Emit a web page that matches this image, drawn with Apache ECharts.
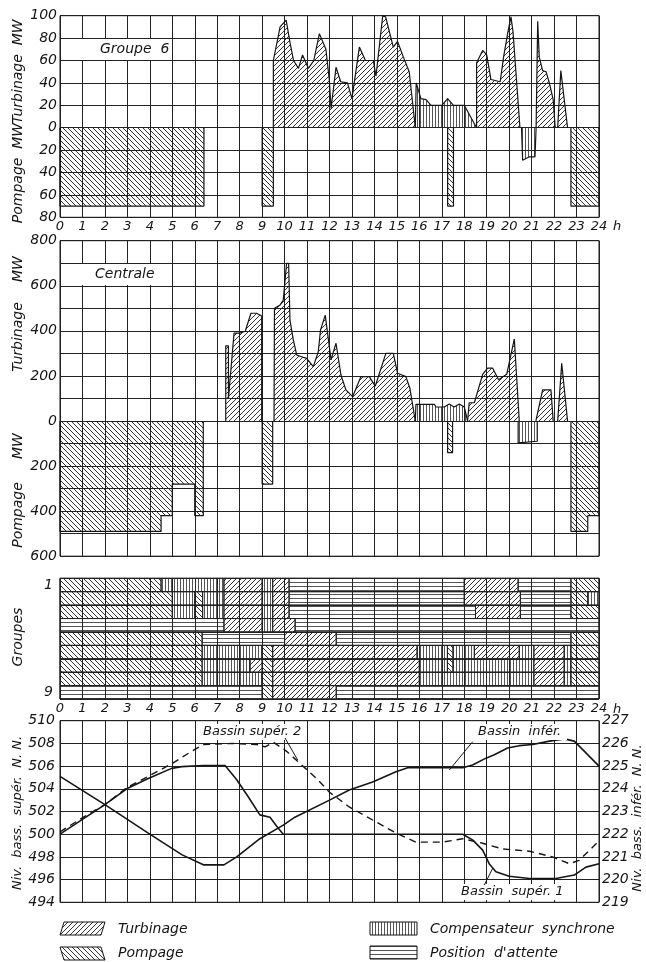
<!DOCTYPE html>
<html><head><meta charset="utf-8">
<script src="https://cdn.jsdelivr.net/npm/echarts@6/dist/echarts.min.js"></script>
<style>html,body{margin:0;padding:0;background:#fff}#c{width:646px;height:962px}</style>
</head><body><div id="c"></div>
<script>
// ---------- DATA ----------
const hourLabels = ['0','1','2','3','4','5','6','7','8','9','10','11','12','13','14','15','16','17','18','19','20','21','22','23','24'];
const groupLabels = ['1','2','3','4','5','6','7','8','9'];

// Groupe 6 (MW) ; null separates segments
const g6Turbinage = [
  [9.5,0],[9.5,60],[9.8,90],[10.07,96],[10.25,75],[10.4,60],[10.62,53],[10.8,65],[11.06,53],[11.3,60],[11.55,84],[11.84,70],[11.99,43],[12.07,17],[12.29,54],[12.5,41],[12.8,40],[13.0,26],[13.33,72],[13.6,60],[13.95,60],[14.07,46],[14.37,100],[14.5,99],[14.84,72],[15.03,77],[15.29,63],[15.55,50],[15.82,0],
  null,
  [18.55,0],[18.55,58],[18.82,69],[19.0,65],[19.19,43],[19.6,41],[19.75,63],[19.95,86],[20.08,99],[20.17,86],[20.48,0],
  null,
  [21.2,0],[21.27,95],[21.34,63],[21.49,51],[21.64,50],[21.79,40],[21.96,25],[22.05,0],
  null,
  [22.16,0],[22.3,51],[22.6,0]
];
const g6Pompage = [
  [0,0],[0,-70],[6.41,-70],[6.41,0], null,
  [9.0,0],[9.0,-70],[9.5,-70],[9.5,0], null,
  [17.26,0],[17.26,-70],[17.52,-70],[17.52,0], null,
  [22.75,0],[22.75,-70],[24,-70],[24,0]
];
const g6Compensateur = [
  [15.82,0],[15.86,40],[16.07,26],[16.3,25],[16.52,20],[17.0,20],[17.26,26],[17.52,20],[18.0,20],[18.55,0], null,
  [20.55,0],[20.6,-29],[20.9,-26],[21.15,-26],[21.2,0]
];

// Centrale (MW)
const centraleTurbinage = [
  [7.38,0],[7.38,333],[7.5,333],[7.5,100],[7.75,390],[8.0,390],[8.25,398],[8.5,478],[8.75,478],[8.98,466],[8.98,0],
  null,
  [9.53,0],[9.55,500],[9.8,515],[9.94,535],[10.09,700],[10.18,700],[10.24,448],[10.39,359],[10.54,293],[10.76,285],[10.98,278],[11.28,241],[11.5,307],[11.6,404],[11.81,470],[12.07,271],[12.29,345],[12.51,204],[12.73,138],[13.03,108],[13.4,197],[13.77,197],[14.04,155],[14.51,300],[14.84,300],[15.03,212],[15.4,197],[15.58,145],[15.82,0],
  null,
  [18.15,0],[18.22,81],[18.45,81],[18.82,207],[19.04,235],[19.26,235],[19.53,183],[19.89,207],[20.23,364],[20.45,0],
  null,
  [21.19,0],[21.49,138],[21.86,138],[21.96,0],
  null,
  [22.16,0],[22.34,256],[22.6,0]
];
const centralePompage = [
  [0,0],[0,-490],[4.5,-490],[4.5,-420],[5.0,-420],[5.0,-280],[6.0,-280],[6.0,-420],[6.38,-420],[6.38,0], null,
  [9.0,0],[9.0,-280],[9.47,-280],[9.47,0], null,
  [17.26,0],[17.26,-140],[17.48,-140],[17.48,0], null,
  [22.75,0],[22.75,-490],[23.5,-490],[23.5,-420],[24,-420],[24,0]
];
const centraleCompensateur = [
  [15.82,0],[15.85,74],[16.67,74],[16.74,62],[17.11,62],[17.33,75],[17.55,62],[17.78,75],[18.0,62],[18.15,0], null,
  [20.4,0],[20.4,-97],[21.25,-90],[21.25,0]
];

// Groupes: [start h, end h, state]  T=Turbinage P=Pompage C=Compensateur A=Attente
const groupe1 = [[0,4.5,'P'],[4.5,7.3,'C'],[7.3,9.0,'T'],[9.0,9.47,'C'],[9.47,10.2,'T'],[10.2,18.0,'A'],[18.0,20.4,'T'],[20.4,22.75,'A'],[22.75,24,'P']];
const groupe2 = [[0,5.0,'P'],[5.0,6.0,'C'],[6.0,6.35,'P'],[6.35,7.3,'C'],[7.3,9.0,'T'],[9.0,9.47,'C'],[9.47,10.2,'T'],[10.2,18.0,'A'],[18.0,20.5,'T'],[20.5,22.75,'A'],[22.75,23.5,'P'],[23.5,24,'C']];
const groupe3 = [[0,5.0,'P'],[5.0,6.0,'C'],[6.0,6.35,'P'],[6.35,7.3,'C'],[7.3,9.0,'T'],[9.0,9.47,'C'],[9.47,10.2,'T'],[10.2,18.5,'A'],[18.5,20.5,'T'],[20.5,22.75,'A'],[22.75,24,'P']];
const groupe4 = [[0,7.3,'A'],[7.3,9.0,'T'],[9.0,9.47,'C'],[9.47,10.47,'T'],[10.47,24,'A']];
const groupe5 = [[0,6.33,'P'],[6.33,10.0,'A'],[10.0,12.3,'T'],[12.3,22.75,'A'],[22.75,24,'P']];
const groupe6 = [[0,6.33,'P'],[6.33,9.0,'C'],[9.0,9.47,'P'],[9.47,15.9,'T'],[15.9,17.25,'C'],[17.25,17.5,'P'],[17.5,18.45,'C'],[18.45,20.45,'T'],[20.45,21.1,'C'],[21.1,22.45,'T'],[22.45,22.75,'C'],[22.75,24,'P']];
const groupe7 = [[0,6.33,'P'],[6.33,8.46,'C'],[8.46,9.0,'T'],[9.0,9.47,'P'],[9.47,16.0,'T'],[16.0,17.25,'C'],[17.25,17.5,'P'],[17.5,21.1,'C'],[21.1,22.45,'T'],[22.45,22.75,'C'],[22.75,24,'P']];
const groupe8 = [[0,6.33,'P'],[6.33,9.0,'C'],[9.0,9.47,'P'],[9.47,16.0,'T'],[16.0,21.1,'C'],[21.1,22.45,'T'],[22.45,22.75,'C'],[22.75,24,'P']];
const groupe9 = [[0,9.0,'A'],[9.0,9.47,'P'],[9.47,12.3,'T'],[12.3,24,'A']];

// Niveaux
const bassinSuper1 = [[0,500.0],[1,501.3],[2,502.6],[2.97,504.0],[3.93,504.9],[4.97,505.8],[5.42,505.95],[6.38,506.05],[7.35,506.05],[7.87,504.8],[8.38,503.3],[8.9,501.7],[9.35,501.5],[9.65,500.7],[9.94,500.0],[12,500],[17.93,500],[18.37,499.5],[18.82,498.6],[19.11,497.4],[19.41,496.7],[20.0,496.3],[20.9,496.1],[22.08,496.1],[22.9,496.4],[23.42,497.1],[24,497.4]];
const bassinSuper2 = [[0,500.2],[1.04,501.5],[2.0,502.6],[2.97,504.1],[3.93,505.1],[4.97,506.2],[5.86,507.3],[6.38,507.9],[7.72,508.0],[8.76,507.9],[9.13,507.7],[9.5,508.1],[9.8,507.7],[10.09,507.3],[10.76,506.1],[11.43,504.9],[12.0,503.7],[12.88,502.4],[13.92,501.25],[14.96,500.1],[15.85,499.3],[17.04,499.3],[17.93,499.6],[18.82,499.2],[19.71,498.7],[20.9,498.5],[21.93,498.0],[22.68,497.4],[23.12,497.7],[24,499.4]];
const bassinInfer = [[0,224.55],[2.0,223.3],[3.93,222.05],[5.42,221.1],[6.38,220.65],[7.3,220.65],[7.87,221.0],[8.9,221.8],[9.94,222.4],[10.46,222.75],[12.0,223.5],[12.88,223.95],[13.92,224.3],[14.96,224.75],[15.48,224.93],[17.93,224.93],[18.37,225.05],[18.97,225.35],[19.34,225.5],[19.93,225.8],[20.45,225.9],[21.05,225.95],[21.79,226.1],[22.45,226.2],[22.9,226.1],[24,225.0]];

// ---------- RENDER ----------
const FONT = 'DejaVu Sans';
const INK = '#151515';

function hatch(kind){
  const c = document.createElement('canvas');
  let w = 5, h = 5;
  if (kind === 'C') { w = 3; h = 3; }
  if (kind === 'A') { w = 4; h = 4; }
  c.width = w; c.height = h;
  const x = c.getContext('2d');
  x.strokeStyle = '#1c1c1c'; x.lineWidth = 0.9;
  x.beginPath();
  if (kind === 'T') { x.moveTo(-1,h+1); x.lineTo(w+1,-1); x.moveTo(-1,1); x.lineTo(1,-1); x.moveTo(w-1,h+1); x.lineTo(w+1,h-1); }
  else if (kind === 'P') { x.moveTo(-1,-1); x.lineTo(w+1,h+1); x.moveTo(w-1,-1); x.lineTo(w+1,1); x.moveTo(-1,h-1); x.lineTo(1,h+1); }
  else if (kind === 'C') { x.strokeStyle = '#2a2a2a'; x.lineWidth = 0.8; x.moveTo(0.5,0); x.lineTo(0.5,h); }
  else { x.strokeStyle = '#2a2a2a'; x.lineWidth = 0.8; x.moveTo(0,2.5); x.lineTo(w,2.5); }
  x.stroke();
  return {image: c, repeat: 'repeat'};
}
const PAT = {T: hatch('T'), P: hatch('P'), C: hatch('C'), A: hatch('A')};
const STATE_IDX = {T:0, P:1, C:2, A:3};
const STATE_KEYS = ['T','P','C','A'];

function splitSegments(arr){
  const out = []; let cur = [];
  arr.forEach(p => { if (p === null) { if (cur.length) out.push(cur); cur = []; } else cur.push(p); });
  if (cur.length) out.push(cur);
  return out;
}
function areaSeries(arr, kind, gi){
  return splitSegments(arr).map(seg => ({
    type:'line', xAxisIndex: gi, yAxisIndex: gi, data: seg, symbol:'none', silent:true,
    lineStyle:{color: INK, width:1.2}, areaStyle:{color: PAT[kind], opacity:1}, z:3
  }));
}

const groupRows = [groupe1,groupe2,groupe3,groupe4,groupe5,groupe6,groupe7,groupe8,groupe9];
const groupData = [];
groupRows.forEach((row, r) => row.forEach(s => groupData.push([s[0], s[1], r, STATE_IDX[s[2]]])));

const grids = [
  {left:60, width:539, top:15.7, height:201.6},
  {left:60, width:539, top:240.7, height:315.5},
  {left:60, width:539, top:578.3, height:120.7},
  {left:60, width:539, top:720.7, height:181.6}
].map(g => Object.assign(g, {show:true, borderColor: INK, borderWidth:1, backgroundColor:'transparent'}));

const gridLine = {show:true, lineStyle:{color:'#222', width:1}};
const lab = (extra) => Object.assign({color: INK, fontFamily: FONT, fontStyle:'italic', fontSize:14}, extra);

const xAxes = [0,1,2,3].map(i => ({
  type:'value', gridIndex:i, min:0, max:24, interval:1,
  splitLine: gridLine, axisLine:{show:false}, axisTick:{show:false},
  axisLabel: lab({show: i === 0 || i === 2, margin:3, fontSize:13, formatter: v => hourLabels[v]})
}));

const yAxes = [
  {type:'value', gridIndex:0, min:-80, max:100, interval:20, splitLine: gridLine, axisLine:{show:false}, axisTick:{show:false},
   axisLabel: lab({margin:3, formatter: v => String(Math.abs(v))})},
  {type:'value', gridIndex:1, min:-600, max:800, interval:100, splitLine: gridLine, axisLine:{show:false}, axisTick:{show:false},
   axisLabel: lab({margin:3, formatter: v => (v % 200 === 0 ? String(Math.abs(v)) : '')})},
  {type:'category', gridIndex:2, data: groupLabels, inverse:true, splitLine: gridLine, axisLine:{show:false}, axisTick:{show:false},
   axisLabel: lab({margin:7, interval:0, formatter: v => (v === '1' || v === '9') ? v : ''})},
  {type:'value', gridIndex:3, min:494, max:510, interval:2, splitLine: gridLine, axisLine:{show:false}, axisTick:{show:false},
   axisLabel: lab({margin:5})},
  {type:'value', gridIndex:3, position:'right', min:219, max:227, interval:1, splitLine:{show:false}, axisLine:{show:false}, axisTick:{show:false},
   axisLabel: lab({margin:3})}
];

const series = [].concat(
  areaSeries(g6Pompage,'P',0), areaSeries(g6Turbinage,'T',0), areaSeries(g6Compensateur,'C',0),
  areaSeries(centralePompage,'P',1), areaSeries(centraleTurbinage,'T',1), areaSeries(centraleCompensateur,'C',1),
  [{
    type:'custom', xAxisIndex:2, yAxisIndex:2, data: groupData, silent:true, z:3,
    encode:{x:[0,1], y:2},
    renderItem: function(params, api){
      const s = api.value(0), e = api.value(1), r = api.value(2), k = STATE_KEYS[api.value(3)];
      const p0 = api.coord([s, r]), p1 = api.coord([e, r]);
      const hh = api.size([0, 1])[1];
      return {type:'rect', shape:{x:p0[0], y:p0[1]-hh/2, width:p1[0]-p0[0], height:hh},
              style:{fill: PAT[k], stroke:'#222', lineWidth:1}};
    }
  },
  {type:'line', name:'Bassin supér. 1', xAxisIndex:3, yAxisIndex:3, data: bassinSuper1, symbol:'none', silent:true, lineStyle:{color:INK, width:1.6}, z:4},
  {type:'line', name:'Bassin supér. 2', xAxisIndex:3, yAxisIndex:3, data: bassinSuper2, symbol:'none', silent:true, lineStyle:{color:INK, width:1.4, type:[7,5]}, z:4},
  {type:'line', name:'Bassin infér.', xAxisIndex:3, yAxisIndex:4, data: bassinInfer, symbol:'none', silent:true, lineStyle:{color:INK, width:1.6}, z:4}
  ]
);

function T(x, y, text, o){
  o = o || {};
  const st = {text, fill: INK, font: `italic ${o.size || 14}px "${FONT}"`,
    align: o.align || 'left', verticalAlign:'middle', textAlign: o.align || 'left', textVerticalAlign:'middle'};
  return {type:'text', x, y, rotation: o.rot || 0, z:100, style: st};
}
function R(x, y, w, h){ return {type:'rect', z:99, shape:{x, y, width:w, height:h}, style:{fill:'#fff'}}; }
function L(x1, y1, x2, y2){ return {type:'line', z:100, shape:{x1, y1, x2, y2}, style:{stroke: INK, lineWidth:1}}; }
const ROT = Math.PI/2;

const graphic = [
  R(61,39,110,21), T(100,49.5,'Groupe  6'),
  R(61,264,110,21), T(95,274.5,'Centrale'),
  T(18,71.5,'Turbinage  MW',{rot:ROT, align:'center'}),
  T(18,173,'Pompage  MW',{rot:ROT, align:'center'}),
  T(18,269,'MW',{rot:ROT, align:'center'}),
  T(18,337,'Turbinage',{rot:ROT, align:'center'}),
  T(18,446,'MW',{rot:ROT, align:'center'}),
  T(18,515,'Pompage',{rot:ROT, align:'center'}),
  T(18,637,'Groupes',{rot:ROT, align:'center'}),
  T(18,813,'Niv.  bass.  supér.  N. N.',{rot:ROT, align:'center', size:13}),
  T(638,818,'Niv.  bass.  infér.  N. N.',{rot:ROT, align:'center', size:13}),
  T(613,227,'h',{size:13}), T(613,709.5,'h',{size:13}),
  R(201,724,103,16), T(203,732,'Bassin supér. 2',{size:13}),
  R(475,724,92,16), T(478,732,'Bassin  infér.',{size:13}),
  R(458,884,108,16), T(461,892,'Bassin  supér. 1',{size:13}),
  L(285,738,297.7,760), L(472.7,741.7,449.3,770), L(492.7,868.3,484.3,885),
  // legend
  {type:'polygon', z:100, shape:{points:[[60,935],[64,922],[105,922],[101,935]]}, style:{fill:PAT.T, stroke:INK, lineWidth:1}},
  T(118,929,'Turbinage'),
  {type:'polygon', z:100, shape:{points:[[64,960],[60,947],[101,947],[105,960]]}, style:{fill:PAT.P, stroke:INK, lineWidth:1}},
  T(118,953,'Pompage'),
  {type:'rect', z:100, shape:{x:370,y:922,width:47,height:13}, style:{fill:PAT.C, stroke:INK, lineWidth:1}},
  T(430,929,'Compensateur  synchrone'),
  {type:'rect', z:100, shape:{x:370,y:946,width:47,height:13}, style:{fill:PAT.A, stroke:INK, lineWidth:1}},
  T(430,953,'Position  d\'attente')
];

const chart = echarts.init(document.getElementById('c'), null, {renderer:'canvas'});
chart.setOption({
  animation:false, backgroundColor:'#fff',
  grid: grids, xAxis: xAxes, yAxis: yAxes, series, graphic: {elements: graphic}
});
</script></body></html>
